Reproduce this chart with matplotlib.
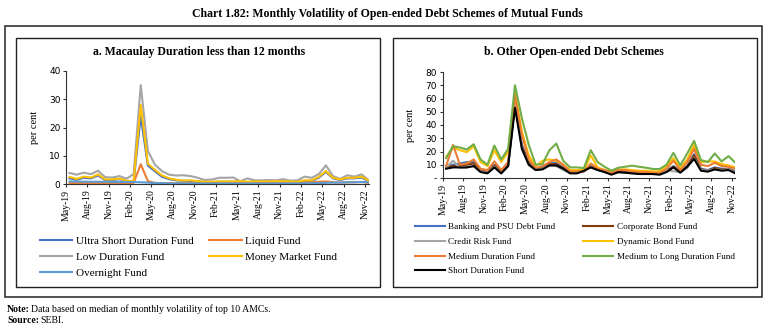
import matplotlib
matplotlib.use("Agg")
import matplotlib.pyplot as plt
from matplotlib.patches import Rectangle

months = ["May-19","Jun-19","Jul-19","Aug-19","Sep-19","Oct-19","Nov-19","Dec-19",
          "Jan-20","Feb-20","Mar-20","Apr-20","May-20","Jun-20","Jul-20","Aug-20",
          "Sep-20","Oct-20","Nov-20","Dec-20","Jan-21","Feb-21","Mar-21","Apr-21",
          "May-21","Jun-21","Jul-21","Aug-21","Sep-21","Oct-21","Nov-21","Dec-21",
          "Jan-22","Feb-22","Mar-22","Apr-22","May-22","Jun-22","Jul-22","Aug-22",
          "Sep-22","Oct-22","Nov-22"]
tick_labels = months[::3]

# Panel a
ultra_short = [2.0,1.5,2.2,2.0,3.0,1.4,1.4,1.7,1.1,0.9,24.0,6.5,4.5,2.5,1.7,1.3,1.1,1.1,0.9,0.7,
               0.7,0.8,0.8,0.8,0.9,0.7,0.8,0.8,0.8,0.9,0.9,0.8,0.7,1.1,1.1,2.2,4.3,2.0,1.4,2.0,
               2.0,2.3,1.0]
liquid = [0.3,0.3,0.3,0.3,0.3,0.3,0.3,0.3,0.3,0.4,7.0,1.0,0.4,0.3,0.3,0.3,0.3,0.3,0.3,0.3,
          0.3,0.3,0.3,0.3,0.3,0.3,0.3,0.3,0.3,0.3,0.3,0.3,0.3,0.5,0.6,0.8,0.9,0.6,0.5,0.6,
          0.6,0.7,0.4]
low_duration = [3.9,3.3,4.0,3.5,4.7,2.4,2.3,2.8,1.9,3.5,35.0,11.7,6.8,4.5,3.3,3.0,3.1,2.8,2.2,1.4,
                1.6,2.2,2.2,2.3,1.0,2.0,1.3,1.3,1.4,1.3,1.7,1.2,1.3,2.6,2.2,3.5,6.6,2.8,1.8,3.1,
                2.6,3.4,1.4]
money_market = [2.5,1.8,2.6,2.3,3.4,1.6,1.6,1.9,1.2,1.0,28.0,7.2,5.0,3.0,2.0,1.5,1.2,1.3,1.0,0.8,
                0.8,0.9,0.9,0.9,1.0,0.8,0.9,0.9,0.9,1.0,1.0,0.9,0.8,1.3,1.3,2.5,4.6,2.2,1.6,2.2,
                2.2,2.6,1.2]
overnight = [0.9,0.9,0.8,0.8,0.8,0.8,0.7,0.7,0.7,0.7,0.6,0.5,0.3,0.3,0.2,0.2,0.2,0.2,0.2,0.2,
             0.2,0.2,0.2,0.2,0.2,0.2,0.2,0.2,0.2,0.2,0.2,0.2,0.2,0.2,0.3,0.3,0.4,0.5,0.5,0.6,
             0.6,0.7,0.6]

# Panel b
banking_psu = [9,10,11,12,12,6,5,10,5,10,57,25,12,7,8,11,11.5,8,4.5,4.5,
               5,9,7,5,3.5,5,5,4.5,4,4,3.5,3.5,5.5,9,5,9,18,7,6,8,
               7,7,5]
corporate_bond = [8.5,9,9.5,10,11,5.5,4.5,9.5,4.5,9.5,56,24,11,6.5,7.5,10.5,10.5,7.5,4,4,
                  5,8.5,6.5,4.8,3.2,4.8,4.5,4,3.8,3.8,3.3,3.3,5,8.5,4.8,8.5,17,6.5,5.5,7.5,
                  6.5,6.5,4.5]
credit_risk = [8,13,7.5,8,9,5,4,8.5,3.5,9,58,22,10,6,7,9.5,9,6,4,4,
               6,8,6,4.5,3,4,4,3.5,3.5,3.5,3,3,6,5,4.5,7.5,15,6,5.5,6.5,
               6,6.5,4]
dynamic_bond = [16,23,21,19.5,24,12,9,21,12,20,64,35,17,9,13,14,13,10,6,6,
                6,17,8,6,5,6.5,6.5,6,5.5,5.5,5,5,9,15,7,14,25,12,12.5,12.5,
                10.5,9.5,8]
medium_duration = [9,25,10,11,14,7,6,12.5,6,12,62,33,14,7.5,9,12,14,10,5,5,
                   5,11,7,6,4,6,6,5,4.5,4.5,4,4,7,13,6,12,22,10,9,11.5,
                   9,8.5,7]
medium_long = [15,24,23,21.5,25.5,14,10,24.5,14,22,70,45,25,10,10.5,21,26,13,8,8,
               7.5,21,12,8.5,5.5,7.8,8.5,9.3,8.5,7.8,6.8,6.8,10,19,9.5,18.5,28,13.5,12,18.5,
               12.5,16.5,11.5]
short_duration = [7,8,8,8,9,4.5,3.5,8,3.5,9,53,22,10,6,6.5,9.5,9.5,7,3.5,3.5,
                  5.5,8,6,4.5,2.5,4.5,4,3.5,3,3,3,2.5,4.5,8,4,8.5,14.5,5.5,4.8,6.5,
                  5.5,6,3.5]

W, H = 773, 333
fig = plt.figure(figsize=(W/100, H/100), dpi=100)
SERIF = ["Liberation Serif", "DejaVu Serif"]
SANS = ["DejaVu Sans"]

def fx(px): return px / W
def fy(py): return 1 - py / H

# boxes
fig.add_artist(Rectangle((fx(5), fy(297)), fx(762) - fx(5), fy(26) - fy(297),
                         transform=fig.transFigure, fill=False, ec="#222222", lw=1.1))
fig.add_artist(Rectangle((fx(16), fy(287)), fx(380) - fx(16), fy(38) - fy(287),
                         transform=fig.transFigure, fill=False, ec="#222222", lw=1.0))
fig.add_artist(Rectangle((fx(393), fy(287)), fx(757) - fx(393), fy(38) - fy(287),
                         transform=fig.transFigure, fill=False, ec="#222222", lw=1.0))

fig.text(fx(387), fy(14), "Chart 1.82: Monthly Volatility of Open-ended Debt Schemes of Mutual Funds",
         ha="center", va="center", fontsize=8.5, fontweight="bold", family=SERIF)
fig.text(fx(199), fy(52), "a. Macaulay Duration less than 12 months",
         ha="center", va="center", fontsize=8.5, fontweight="bold", family=SERIF)
fig.text(fx(574), fy(52), "b. Other Open-ended Debt Schemes",
         ha="center", va="center", fontsize=8.5, fontweight="bold", family=SERIF)

x = [i + 0.5 for i in range(len(months))]
tick_pos = list(range(0, len(months), 3))

def style_axes(ax, yticks, ylabels):
    for s in ["top", "right"]:
        ax.spines[s].set_visible(False)
    for s in ["left", "bottom"]:
        ax.spines[s].set_color("#333333")
        ax.spines[s].set_linewidth(0.8)
    ax.set_xlim(0, 42.5)
    ax.set_xticks(tick_pos)
    ax.set_xticklabels(tick_labels, rotation=90, fontsize=7, family=SERIF)
    ax.set_yticks(yticks)
    ax.set_yticklabels(ylabels, fontsize=6.5, family=SANS)
    ax.tick_params(axis="both", length=2.5, width=0.8, color="#333333", pad=1.5)
    ax.set_ylabel("per cent", fontsize=7.5, family=SERIF, labelpad=3)
    ax.patch.set_alpha(0)

def rowmajor_legend(ax, order, **kw):
    h, l = ax.get_legend_handles_labels()
    ax.legend([h[i] for i in order], [l[i] for i in order], **kw)

lw = 1.5
# Panel a
axa = fig.add_axes([fx(66), fy(184), fx(368.6) - fx(66), fy(71) - fy(184)])
axa.plot(x, ultra_short, color="#4472C4", lw=lw, label="Ultra Short Duration Fund")
axa.plot(x, liquid, color="#ED7D31", lw=lw, label="Liquid Fund")
axa.plot(x, low_duration, color="#A5A5A5", lw=lw, label="Low Duration Fund")
axa.plot(x, money_market, color="#FFC000", lw=lw, label="Money Market Fund")
axa.plot(x, overnight, color="#5B9BD5", lw=lw, label="Overnight Fund")
axa.set_ylim(0, 40)
style_axes(axa, [0, 10, 20, 30, 40], ["0", "10", "20", "30", "40"])
axa.yaxis.set_label_coords(-0.09, 0.5)
rowmajor_legend(axa, [0, 2, 4, 1, 3],
                loc="upper left", bbox_to_anchor=(fx(40), fy(236.5)), bbox_transform=fig.transFigure,
                ncol=2, frameon=False, prop={"family": SERIF, "size": 8},
                handlelength=2.9, handletextpad=0.3, columnspacing=1.45, labelspacing=0.55,
                borderpad=0, borderaxespad=0)

# Panel b
axb = fig.add_axes([fx(442.7), fy(178), fx(735.4) - fx(442.7), fy(72) - fy(178)])
axb.plot(x, banking_psu, color="#4472C4", lw=lw, label="Banking and PSU Debt Fund")
axb.plot(x, corporate_bond, color="#843C0C", lw=lw, label="Corporate Bond Fund")
axb.plot(x, credit_risk, color="#A5A5A5", lw=lw, label="Credit Risk Fund")
axb.plot(x, dynamic_bond, color="#FFC000", lw=lw, label="Dynamic Bond Fund")
axb.plot(x, medium_duration, color="#ED7D31", lw=lw, label="Medium Duration Fund")
axb.plot(x, medium_long, color="#70AD47", lw=lw, label="Medium to Long Duration Fund")
axb.plot(x, short_duration, color="#000000", lw=lw, label="Short Duration Fund")
axb.set_ylim(0, 80)
style_axes(axb, list(range(0, 81, 10)), ["-"] + [str(v) for v in range(10, 81, 10)])
axb.yaxis.set_label_coords(-0.095, 0.5)
rowmajor_legend(axb, [0, 2, 4, 6, 1, 3, 5],
                loc="upper left", bbox_to_anchor=(fx(415), fy(223)), bbox_transform=fig.transFigure,
                ncol=2, frameon=False, prop={"family": SERIF, "size": 6.6},
                handlelength=3.3, handletextpad=0.35, columnspacing=3.0, labelspacing=0.68,
                borderpad=0, borderaxespad=0)

# Notes
renderer = fig.canvas.get_renderer()
def bold_then_regular(px, py, bold, rest):
    t = fig.text(fx(px), fy(py), bold, fontsize=7, family=SERIF, fontweight="bold", va="center")
    bb = t.get_window_extent(renderer=renderer)
    fig.text(fx(px + bb.width + 1.5), fy(py), rest, fontsize=7, family=SERIF, va="center")

bold_then_regular(7, 309, "Note:", "Data based on median of monthly volatility of top 10 AMCs.")
bold_then_regular(7, 320.5, "Source:", "SEBI.")

fig.savefig("out.png", dpi=100)
